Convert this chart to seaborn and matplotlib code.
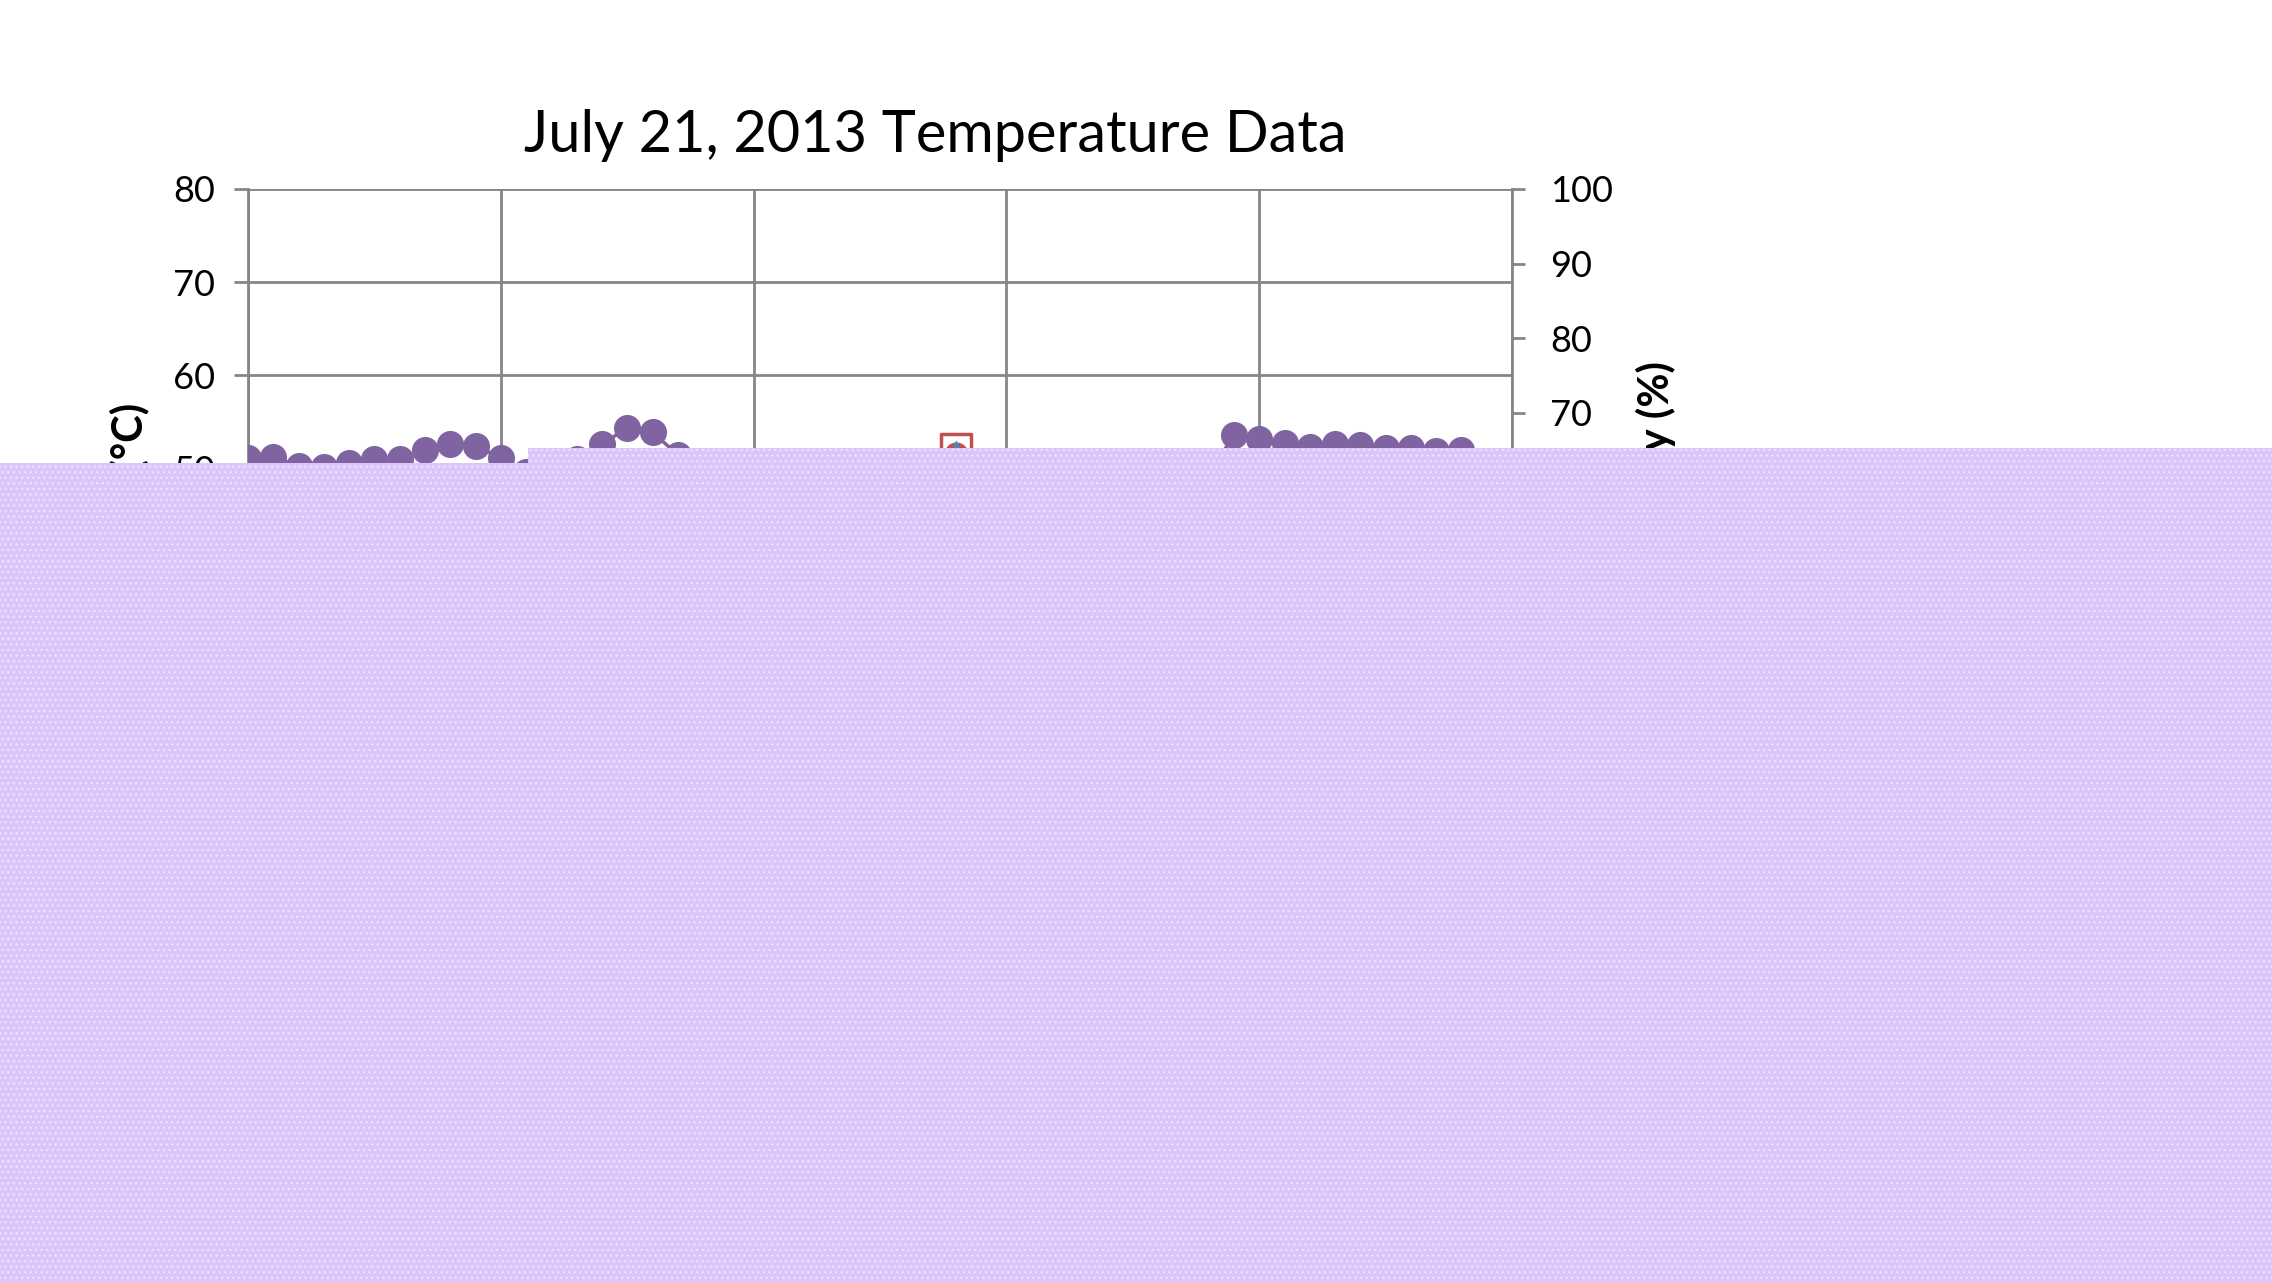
import seaborn as sns
import matplotlib
matplotlib.use('Agg')
from matplotlib import pyplot as plt
from matplotlib.patches import Polygon

# reading index (one every step) and temperatures
reading = list(range(49))
temp_c = [51.1, 51.3, 50.3, 50.2, 50.6, 51.0, 51.0, 52.0, 52.6, 52.4,
          51.2, 49.6, 48.8, 51.0, 52.6, 54.4, 53.9, 51.5, 49.8, 48.9,
          48.1, 47.5, 47.0, 46.6, 46.4, 46.5, 46.8, 47.2, 47.6, 47.9,
          48.1, 48.3, 48.6, 48.9, 49.1, 49.4, 49.3, 49.0, 49.4, 53.6,
          53.2, 52.8, 52.3, 52.6, 52.5, 52.2, 52.2, 51.9, 52.0]

# single spot readings at reading 28
spot_x = [28]
spot_square = [52.1]
spot_circle = [51.6]
spot_triangle = [51.9]

title = 'July 21, 2013 Temperature Data'
left_label = 'Temperature (°C)'
right_label = 'Relative Humidity (%)'

sns.set_style('white')
plt.rcParams['font.family'] = ['Lato', 'DejaVu Sans']
plt.rcParams['text.color'] = 'black'
plt.rcParams['axes.labelcolor'] = 'black'

grey = '#868686'
purple = '#8064A2'
red = '#C0504D'
blue = '#4F81BD'

fig = plt.figure(figsize=(22.72, 12.82), dpi=100)
ax = fig.add_axes([0.1092, 0.2707, 0.5563, 0.5819])

sns.lineplot(x=reading, y=temp_c, ax=ax, color=purple, lw=2.5, zorder=3)
sns.scatterplot(x=reading, y=temp_c, ax=ax, color=purple, s=380,
                linewidth=0, zorder=3)
sns.scatterplot(x=spot_x, y=spot_square, ax=ax, marker='s', s=440,
                facecolor='white', edgecolor=red, linewidth=2.5, zorder=4)
sns.scatterplot(x=spot_x, y=spot_circle, ax=ax, marker='o', s=300,
                color=red, linewidth=0, zorder=5)
sns.scatterplot(x=spot_x, y=spot_triangle, ax=ax, marker='^', s=260,
                color=blue, linewidth=0, zorder=6)

ax.set_xlim(0, 50)
ax.set_ylim(0, 80)
ax.set_xticks(range(0, 51, 10))
ax.set_yticks(range(0, 81, 10))
ax.grid(True, color=grey, lw=2)
ax.set_axisbelow(True)
for s in ['top', 'bottom']:
    ax.spines[s].set_visible(False)
for s in ['left', 'right']:
    ax.spines[s].set_color(grey)
    ax.spines[s].set_linewidth(2)
ax.tick_params(axis='y', left=True, direction='out', length=10, width=2,
               color=grey, labelcolor='black', labelsize=26, pad=14)
ax.tick_params(axis='x', bottom=False, labelbottom=False)
ax.set_ylabel(left_label, fontsize=30, fontweight='bold', labelpad=16)
ax.set_xlabel('')

fig.text(935 / 2272, 1 - 135 / 1282, title, fontsize=41.5, color='black',
         ha='center', va='center')

ax2 = ax.twinx()
ax2.set_ylim(0, 100)
ax2.set_yticks(range(0, 101, 10))
ax2.grid(False)
for s in ax2.spines.values():
    s.set_visible(False)
ax2.tick_params(axis='y', right=True, direction='out', length=9.5, width=2,
                color=grey, labelcolor='black', labelsize=26, pad=18)
ax2.set_ylabel(right_label, fontsize=30, fontweight='bold', labelpad=16)

# lavender cover sheet over the lower part of the slide
W, H = 2272, 1282
pts = [(0, 463), (528, 463), (528, 448), (W, 448), (W, H), (0, H)]
cover = Polygon([(x / W, 1 - y / H) for x, y in pts], closed=True,
                transform=fig.transFigure, facecolor='#DCC5FB',
                edgecolor='#EEE4FD', hatch='...', lw=0, zorder=20)
fig.add_artist(cover)

fig.savefig('out.png', dpi=100, facecolor='white')
